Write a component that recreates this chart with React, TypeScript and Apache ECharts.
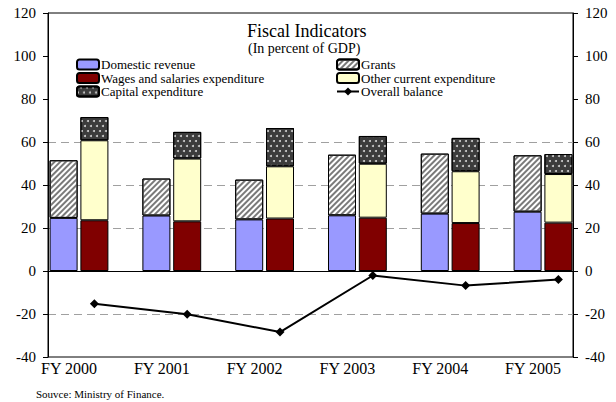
import React, { useEffect, useRef } from "react";
import * as echarts from "echarts";

const categories = ["FY 2000", "FY 2001", "FY 2002", "FY 2003", "FY 2004", "FY 2005"];
const domesticRevenue = [24.7, 25.8, 24.0, 25.9, 26.7, 27.6];
const grants = [26.8, 17.2, 18.5, 28.2, 27.9, 26.2];
const wages = [23.6, 23.1, 24.4, 24.8, 22.3, 22.5];
const otherCurrent = [37.2, 29.2, 24.3, 25.1, 24.1, 22.6];
const capital = [10.8, 12.4, 17.8, 12.9, 15.5, 9.3];
const overallBalance = [-15.2, -20.1, -28.4, -2.1, -6.8, -3.9];
const yTicks = { min: -40, max: 120, interval: 20 };

const FONT = "Liberation Serif";

export default function App() {
  const ref = useRef<HTMLDivElement>(null);
  useEffect(() => {
    document.body.style.margin = "0";
    const chart = echarts.init(ref.current!, null, { renderer: "svg" });
    const none = "rgba(0,0,0,0)";
    const gridColor = "#a0a0a0";
    const TOP = 13;
    const H = 344;
    const CAT_W = 92.8;
    const SPAN = CAT_W * categories.length;
    const yAxisBase = {
      type: "value",
      min: yTicks.min,
      max: yTicks.max,
      interval: yTicks.interval,
    };
    const hiddenY = (gridIndex: number) => ({
      ...yAxisBase, gridIndex, show: false, splitLine: { show: false },
    });
    const hiddenCatX = (gridIndex: number) => ({
      type: "category", data: categories, gridIndex, show: false,
      boundaryGap: true, splitLine: { show: false },
    });
    const legendText = {
      fontFamily: FONT, fontSize: 13, lineHeight: 13, color: "#000", padding: [0, 0, 0, -3],
    };
    chart.setOption({
      animation: false,
      backgroundColor: "#fff",
      textStyle: { fontFamily: FONT, color: "#000" },
      grid: [
        // frame
        { left: 48, top: TOP, width: 525, height: H, show: true, borderColor: "#000", borderWidth: 1 },
        // bars (category centres at bar-group centres)
        { left: 79 - CAT_W / 2, top: TOP, width: SPAN, height: H },
        // line points
        { left: 48, top: TOP, width: SPAN, height: H },
        // category labels
        { left: 69 - CAT_W / 2, top: TOP, width: SPAN, height: H },
      ],
      xAxis: [
        {
          type: "value", gridIndex: 0, min: 0, max: 1,
          axisLine: { show: true, onZero: true, lineStyle: { color: "#000", width: 1 } },
          axisTick: { show: false }, axisLabel: { show: false }, splitLine: { show: false },
        },
        hiddenCatX(1),
        hiddenCatX(2),
        {
          type: "category", data: categories, gridIndex: 3, position: "bottom",
          boundaryGap: true,
          axisLine: { show: false }, axisTick: { show: false }, splitLine: { show: false },
          axisLabel: {
            interval: 0, fontFamily: FONT, fontSize: 16, color: "#000", margin: 3,
          },
        },
      ],
      yAxis: [
        {
          ...yAxisBase,
          gridIndex: 0,
          position: "left",
          axisLine: { show: true, onZero: false, lineStyle: { color: "#000", width: 1 } },
          axisTick: { show: true, inside: false, length: 5, lineStyle: { color: "#000" } },
          axisLabel: { fontFamily: FONT, fontSize: 15, color: "#000", margin: 12 },
          splitLine: {
            show: true,
            lineStyle: {
              type: [8, 5],
              width: 1,
              color: [none, gridColor, none, gridColor, gridColor, gridColor, none, none, none],
            },
          },
        },
        {
          ...yAxisBase,
          gridIndex: 0,
          position: "right",
          axisLine: { show: true, onZero: false, lineStyle: { color: "#000", width: 1 } },
          axisTick: { show: true, inside: false, length: 5, lineStyle: { color: "#000" } },
          axisLabel: { fontFamily: FONT, fontSize: 15, color: "#000", margin: 12 },
          splitLine: { show: false },
        },
        hiddenY(1),
        hiddenY(2),
        hiddenY(3),
      ],
      legend: [
        {
          orient: "vertical", left: 71, top: 53, itemWidth: 22, itemHeight: 10, itemGap: 0.5,
          padding: 5,
          data: ["Domestic revenue", "Wages and salaries expenditure", "Capital expenditure"],
          textStyle: legendText,
          selectedMode: false,
        },
        {
          orient: "vertical", left: 331, top: 53, itemWidth: 22, itemHeight: 10, itemGap: 0.5,
          padding: 5,
          data: ["Grants", "Other current expenditure", "Overall balance"],
          textStyle: legendText,
          selectedMode: false,
        },
      ],
      graphic: [
        {
          type: "text", left: 247, top: 22,
          style: { text: "Fiscal Indicators", font: `18px ${FONT}`, fill: "#000" },
        },
        {
          type: "text", left: 248, top: 41,
          style: { text: "(In percent of GDP)", font: `14px ${FONT}`, fill: "#000" },
        },
        {
          type: "text", left: 36, top: 388,
          style: { text: "Souvce: Ministry of Finance.", font: `11px ${FONT}`, fill: "#000" },
        },
      ],
      series: [
        {
          name: "Domestic revenue", type: "bar", stack: "rev", xAxisIndex: 1, yAxisIndex: 2,
          barWidth: 28, barGap: "10%",
          itemStyle: { color: "#9999ff", borderColor: "#000", borderWidth: 1 },
          data: domesticRevenue,
        },
        {
          name: "Wages and salaries expenditure", type: "bar", stack: "exp", xAxisIndex: 1, yAxisIndex: 2,
          barWidth: 28, barGap: "10%",
          itemStyle: { color: "#800000", borderColor: "#000", borderWidth: 1 },
          data: wages,
        },
        {
          name: "Grants", type: "bar", stack: "rev", xAxisIndex: 1, yAxisIndex: 2,
          barWidth: 28, barGap: "10%",
          itemStyle: {
            color: "#ffffff", borderColor: "#000", borderWidth: 1,
            decal: {
              symbol: "rect", symbolSize: 1, color: "#7a7a7a",
              dashArrayX: [1, 0], dashArrayY: [2, 2], rotation: -Math.PI / 4,
            },
          },
          data: grants,
        },
        {
          name: "Other current expenditure", type: "bar", stack: "exp", xAxisIndex: 1, yAxisIndex: 2,
          barWidth: 28, barGap: "10%",
          itemStyle: { color: "#ffffcc", borderColor: "#000", borderWidth: 1 },
          data: otherCurrent,
        },
        {
          name: "Capital expenditure", type: "bar", stack: "exp", xAxisIndex: 1, yAxisIndex: 2,
          barWidth: 28, barGap: "10%",
          itemStyle: {
            color: "#3c3c3c", borderColor: "#000", borderWidth: 1,
            decal: {
              symbol: "circle", symbolSize: 1, color: "#d0d0d0",
              dashArrayX: [[1.5, 3.5], [0, 2.5, 1.5, 1]], dashArrayY: [1.5, 2.5],
            },
          },
          data: capital,
        },
        {
          name: "Overall balance", type: "line", xAxisIndex: 2, yAxisIndex: 3,
          symbol: "diamond", symbolSize: 9, z: 5,
          itemStyle: { color: "#000" },
          lineStyle: { color: "#000", width: 2 },
          data: overallBalance,
        },
      ],
    });
    return () => chart.dispose();
  }, []);
  return (
    <div
      ref={ref}
      style={{ position: "absolute", left: 0, top: 0, width: 616, height: 402 }}
    />
  );
}
